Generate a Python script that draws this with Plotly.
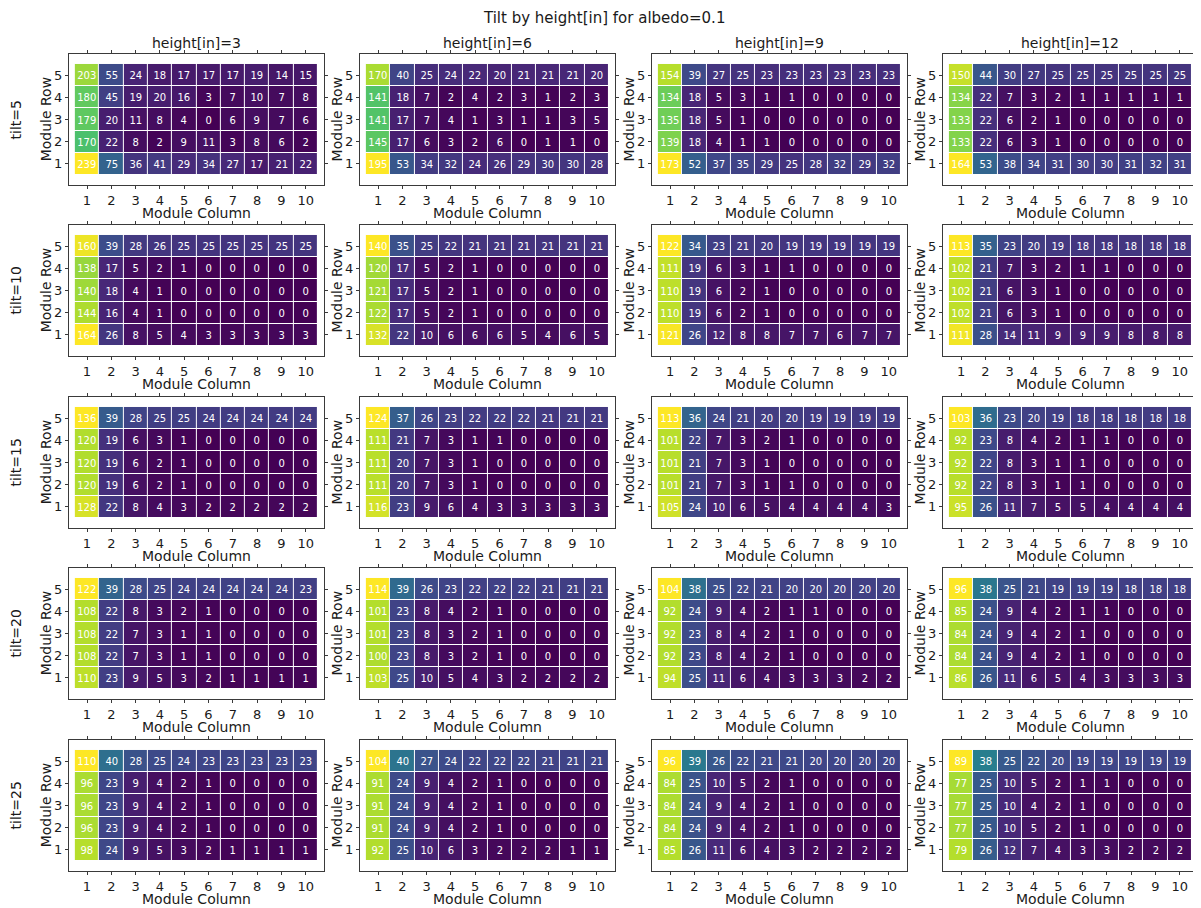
import plotly.graph_objects as go

# grid of panels: rows are tilts, columns are heights
tilts = [5, 10, 15, 20, 25]
heights = [3, 6, 9, 12]
module_cols = [1, 2, 3, 4, 5, 6, 7, 8, 9, 10]
module_rows = [1, 2, 3, 4, 5]

# each panel listed as displayed: Module Row 5 first, Module Row 1 last
t5_h3 = [[203, 55, 24, 18, 17, 17, 17, 19, 14, 15],
         [180, 45, 19, 20, 16, 3, 7, 10, 7, 8],
         [179, 20, 11, 8, 4, 0, 6, 9, 7, 6],
         [170, 22, 8, 2, 9, 11, 3, 8, 6, 2],
         [239, 75, 36, 41, 29, 34, 27, 17, 21, 22]]
t5_h6 = [[170, 40, 25, 24, 22, 20, 21, 21, 21, 20],
         [141, 18, 7, 2, 4, 2, 3, 1, 2, 3],
         [141, 17, 7, 4, 1, 3, 1, 1, 3, 5],
         [145, 17, 6, 3, 2, 6, 0, 1, 1, 0],
         [195, 53, 34, 32, 24, 26, 29, 30, 30, 28]]
t5_h9 = [[154, 39, 27, 25, 23, 23, 23, 23, 23, 23],
         [134, 18, 5, 3, 1, 1, 0, 0, 0, 0],
         [135, 18, 5, 1, 0, 0, 0, 0, 0, 0],
         [139, 18, 4, 1, 1, 0, 0, 0, 0, 0],
         [173, 52, 37, 35, 29, 25, 28, 32, 29, 32]]
t5_h12 = [[150, 44, 30, 27, 25, 25, 25, 25, 25, 25],
          [134, 22, 7, 3, 2, 1, 1, 1, 1, 1],
          [133, 22, 6, 2, 1, 0, 0, 0, 0, 0],
          [133, 22, 6, 3, 1, 0, 0, 0, 0, 0],
          [164, 53, 38, 34, 31, 30, 30, 31, 32, 31]]

t10_h3 = [[160, 39, 28, 26, 25, 25, 25, 25, 25, 25],
          [138, 17, 5, 2, 1, 0, 0, 0, 0, 0],
          [140, 18, 4, 1, 0, 0, 0, 0, 0, 0],
          [144, 16, 4, 1, 0, 0, 0, 0, 0, 0],
          [164, 26, 8, 5, 4, 3, 3, 3, 3, 3]]
t10_h6 = [[140, 35, 25, 22, 21, 21, 21, 21, 21, 21],
          [120, 17, 5, 2, 1, 0, 0, 0, 0, 0],
          [121, 17, 5, 2, 1, 0, 0, 0, 0, 0],
          [122, 17, 5, 2, 1, 0, 0, 0, 0, 0],
          [132, 22, 10, 6, 6, 6, 5, 4, 6, 5]]
t10_h9 = [[122, 34, 23, 21, 20, 19, 19, 19, 19, 19],
          [111, 19, 6, 3, 1, 1, 0, 0, 0, 0],
          [110, 19, 6, 2, 1, 0, 0, 0, 0, 0],
          [110, 19, 6, 2, 1, 0, 0, 0, 0, 0],
          [121, 26, 12, 8, 8, 7, 7, 6, 7, 7]]
t10_h12 = [[113, 35, 23, 20, 19, 18, 18, 18, 18, 18],
           [102, 21, 7, 3, 2, 1, 1, 0, 0, 0],
           [102, 21, 6, 3, 1, 0, 0, 0, 0, 0],
           [102, 21, 6, 3, 1, 0, 0, 0, 0, 0],
           [111, 28, 14, 11, 9, 9, 9, 8, 8, 8]]

t15_h3 = [[136, 39, 28, 25, 25, 24, 24, 24, 24, 24],
          [120, 19, 6, 3, 1, 0, 0, 0, 0, 0],
          [120, 19, 6, 2, 1, 0, 0, 0, 0, 0],
          [120, 19, 6, 2, 1, 0, 0, 0, 0, 0],
          [128, 22, 8, 4, 3, 2, 2, 2, 2, 2]]
t15_h6 = [[124, 37, 26, 23, 22, 22, 22, 21, 21, 21],
          [111, 21, 7, 3, 1, 1, 0, 0, 0, 0],
          [111, 20, 7, 3, 1, 0, 0, 0, 0, 0],
          [111, 20, 7, 3, 1, 0, 0, 0, 0, 0],
          [116, 23, 9, 6, 4, 3, 3, 3, 3, 3]]
t15_h9 = [[113, 36, 24, 21, 20, 20, 19, 19, 19, 19],
          [101, 22, 7, 3, 2, 1, 0, 0, 0, 0],
          [101, 21, 7, 3, 1, 0, 0, 0, 0, 0],
          [101, 21, 7, 3, 1, 1, 0, 0, 0, 0],
          [105, 24, 10, 6, 5, 4, 4, 4, 4, 3]]
t15_h12 = [[103, 36, 23, 20, 19, 18, 18, 18, 18, 18],
           [92, 23, 8, 4, 2, 1, 1, 0, 0, 0],
           [92, 22, 8, 3, 1, 1, 0, 0, 0, 0],
           [92, 22, 8, 3, 1, 1, 0, 0, 0, 0],
           [95, 26, 11, 7, 5, 5, 4, 4, 4, 4]]

t20_h3 = [[122, 39, 28, 25, 24, 24, 24, 24, 24, 23],
          [108, 22, 8, 3, 2, 1, 0, 0, 0, 0],
          [108, 22, 7, 3, 1, 1, 0, 0, 0, 0],
          [108, 22, 7, 3, 1, 1, 0, 0, 0, 0],
          [110, 23, 9, 5, 3, 2, 1, 1, 1, 1]]
t20_h6 = [[114, 39, 26, 23, 22, 22, 22, 21, 21, 21],
          [101, 23, 8, 4, 2, 1, 0, 0, 0, 0],
          [101, 23, 8, 3, 2, 1, 0, 0, 0, 0],
          [100, 23, 8, 3, 2, 1, 0, 0, 0, 0],
          [103, 25, 10, 5, 4, 3, 2, 2, 2, 2]]
t20_h9 = [[104, 38, 25, 22, 21, 20, 20, 20, 20, 20],
          [92, 24, 9, 4, 2, 1, 1, 0, 0, 0],
          [92, 23, 8, 4, 2, 1, 0, 0, 0, 0],
          [92, 23, 8, 4, 2, 1, 0, 0, 0, 0],
          [94, 25, 11, 6, 4, 3, 3, 3, 2, 2]]
t20_h12 = [[96, 38, 25, 21, 19, 19, 19, 18, 18, 18],
           [85, 24, 9, 4, 2, 1, 1, 0, 0, 0],
           [84, 24, 9, 4, 2, 1, 0, 0, 0, 0],
           [84, 24, 9, 4, 2, 1, 0, 0, 0, 0],
           [86, 26, 11, 6, 5, 4, 3, 3, 3, 3]]

t25_h3 = [[110, 40, 28, 25, 24, 23, 23, 23, 23, 23],
          [96, 23, 9, 4, 2, 1, 0, 0, 0, 0],
          [96, 23, 9, 4, 2, 1, 0, 0, 0, 0],
          [96, 23, 9, 4, 2, 1, 0, 0, 0, 0],
          [98, 24, 9, 5, 3, 2, 1, 1, 1, 1]]
t25_h6 = [[104, 40, 27, 24, 22, 22, 22, 21, 21, 21],
          [91, 24, 9, 4, 2, 1, 0, 0, 0, 0],
          [91, 24, 9, 4, 2, 1, 0, 0, 0, 0],
          [91, 24, 9, 4, 2, 1, 0, 0, 0, 0],
          [92, 25, 10, 6, 3, 2, 2, 2, 1, 1]]
t25_h9 = [[96, 39, 26, 22, 21, 21, 20, 20, 20, 20],
          [84, 25, 10, 5, 2, 1, 0, 0, 0, 0],
          [84, 24, 9, 4, 2, 1, 0, 0, 0, 0],
          [84, 24, 9, 4, 2, 1, 0, 0, 0, 0],
          [85, 26, 11, 6, 4, 3, 2, 2, 2, 2]]
t25_h12 = [[89, 38, 25, 22, 20, 19, 19, 19, 19, 19],
           [77, 25, 10, 5, 2, 1, 1, 0, 0, 0],
           [77, 25, 10, 4, 2, 1, 0, 0, 0, 0],
           [77, 25, 10, 5, 2, 1, 0, 0, 0, 0],
           [79, 26, 12, 7, 4, 3, 3, 2, 2, 2]]

panels = [[t5_h3, t5_h6, t5_h9, t5_h12],
          [t10_h3, t10_h6, t10_h9, t10_h12],
          [t15_h3, t15_h6, t15_h9, t15_h12],
          [t20_h3, t20_h6, t20_h9, t20_h12],
          [t25_h3, t25_h6, t25_h9, t25_h12]]

# screen geometry in pixels; the page body adds an 8px margin
SW, SH = 1201, 908
OX, OY = 8, 8
W, H = SW - OX, SH - OY
lefts = [69, 361, 654, 946]
tops = [54, 225, 397, 568, 740]
pw, ph = 256, 131


def px(x):
    return (x - OX) / W


def py(y):
    return 1 - (y - OY) / H


FONT = "DejaVu Sans"
TXT = "#1a1a1a"
AX = "#3a3a3a"

fig = go.Figure()
annotations = []

k = 0
for r, tilt in enumerate(tilts):
    for c, h in enumerate(heights):
        k += 1
        xa = "x" if k == 1 else f"x{k}"
        ya = "y" if k == 1 else f"y{k}"
        z = panels[r][c][::-1]  # row 1 at bottom
        flat = [v for row in z for v in row]
        fig.add_trace(go.Heatmap(
            x=module_cols, y=module_rows, z=z,
            colorscale="Viridis", zmin=min(flat), zmax=max(flat),
            showscale=False, xgap=1, ygap=1,
            texttemplate="%{z}", textfont=dict(family=FONT, size=10, color="white"),
            hoverinfo="z", xaxis=xa, yaxis=ya))

        x0 = lefts[c]
        x1 = min(x0 + pw, SW)
        xr = 0.25 + 10.5 * (x1 - x0) / pw
        y0 = tops[r]
        y1 = y0 + ph
        axis_common = dict(showline=True, linecolor=AX, linewidth=1, mirror="ticks",
                           ticks="outside", ticklen=3, tickcolor=AX, showgrid=False,
                           zeroline=False, tickfont=dict(family=FONT, size=13, color=TXT))
        fig.layout[f"xaxis{k if k > 1 else ''}"] = dict(
            domain=[px(x0), px(x1)], range=[0.25, xr], anchor=ya,
            tickvals=module_cols, **axis_common)
        fig.layout[f"yaxis{k if k > 1 else ''}"] = dict(
            domain=[py(y1), py(y0)], range=[0.05, 5.95], anchor=xa,
            tickvals=module_rows, **axis_common)

        cx = px(x0 + pw / 2)
        cy = py(y0 + ph / 2)
        annotations.append(dict(text="Module Column", x=cx, y=py(y1 + 28),
                                xref="paper", yref="paper", showarrow=False,
                                xanchor="center", yanchor="middle",
                                font=dict(family=FONT, size=14, color=TXT)))
        annotations.append(dict(text="Module Row", x=px(x0 - 23), y=cy,
                                xref="paper", yref="paper", showarrow=False, textangle=-90,
                                xanchor="center", yanchor="middle",
                                font=dict(family=FONT, size=14, color=TXT)))
        if r == 0:
            annotations.append(dict(text=f"height[in]={h}", x=cx, y=py(y0 - 11),
                                    xref="paper", yref="paper", showarrow=False,
                                    xanchor="center", yanchor="middle",
                                    font=dict(family=FONT, size=14, color=TXT)))
    annotations.append(dict(text=f"tilt={tilt}", x=px(16), y=py(tops[r] + ph / 2),
                            xref="paper", yref="paper", showarrow=False, textangle=-90,
                            xanchor="center", yanchor="middle",
                            font=dict(family=FONT, size=14, color=TXT)))

annotations.append(dict(text="Tilt by height[in] for albedo=0.1", x=px(606), y=py(18),
                        xref="paper", yref="paper", showarrow=False,
                        xanchor="center", yanchor="middle",
                        font=dict(family=FONT, size=15, color=TXT)))

fig.update_layout(width=W, height=H, margin=dict(l=0, r=0, t=0, b=0),
                  paper_bgcolor="white", plot_bgcolor="white",
                  annotations=annotations, showlegend=False)

fig.write_html("out.html")
